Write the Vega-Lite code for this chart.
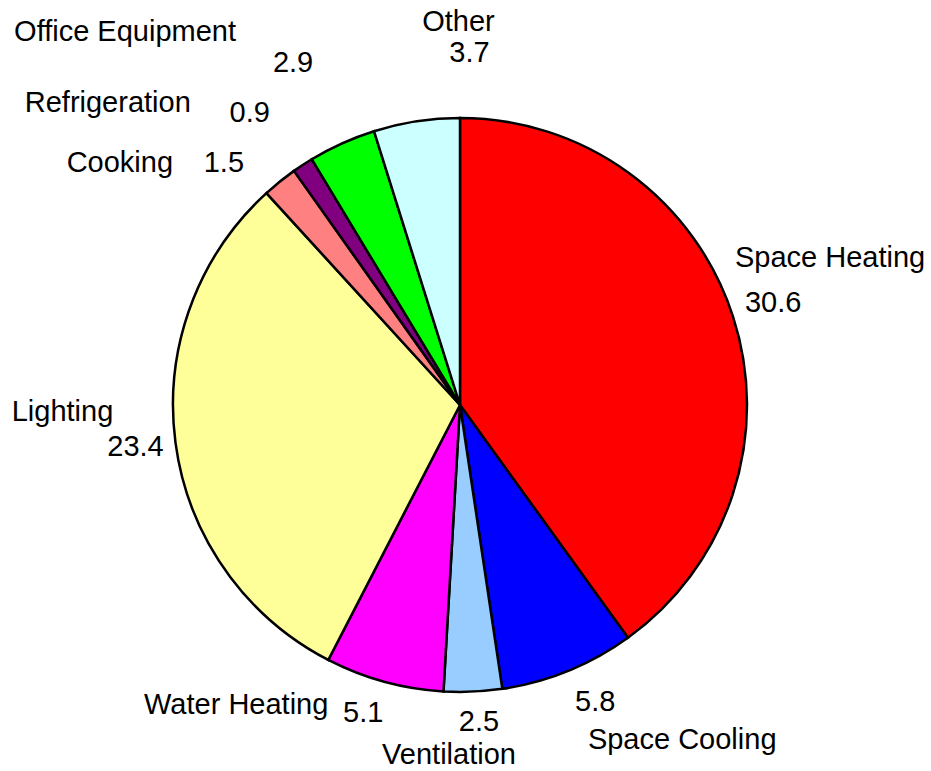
{
  "$schema": "https://vega.github.io/schema/vega-lite/v6.json",
  "width": 920,
  "height": 732,
  "autosize": "none",
  "padding": {"left": 0, "top": 39, "right": 11, "bottom": 0},
  "background": "white",
  "config": {"view": {"stroke": null}, "text": {"font": "Liberation Sans", "fontSize": 29, "color": "black"}},
  "data": {"values": [
    {"order": 1, "name": "Space Heating", "value": 30.6},
    {"order": 2, "name": "Space Cooling", "value": 5.8},
    {"order": 3, "name": "Ventilation", "value": 2.5},
    {"order": 4, "name": "Water Heating", "value": 5.1},
    {"order": 5, "name": "Lighting", "value": 23.4},
    {"order": 6, "name": "Cooking", "value": 1.5},
    {"order": 7, "name": "Refrigeration", "value": 0.9},
    {"order": 8, "name": "Office Equipment", "value": 2.9},
    {"order": 9, "name": "Other", "value": 3.7}
  ]},
  "encoding": {
    "theta": {"field": "value", "type": "quantitative", "stack": true},
    "order": {"field": "order", "type": "quantitative"}
  },
  "layer": [
    {
      "mark": {"type": "arc", "outerRadius": 287, "stroke": "black", "strokeWidth": 2.5},
      "encoding": {
        "color": {"field": "name", "type": "nominal", "legend": null,
          "scale": {"domain": ["Space Heating", "Space Cooling", "Ventilation", "Water Heating", "Lighting", "Cooking", "Refrigeration", "Office Equipment", "Other"],
                    "range": ["#FF0000", "#0000FF", "#99CCFF", "#FF00FF", "#FFFF99", "#FF8080", "#800080", "#00FF00", "#CCFFFF"]}}
      }
    },
    {"mark": {"type": "text", "radius": 287, "dx": 97, "dy": -59},
     "encoding": {"text": {"condition": {"test": "datum.name === 'Space Heating'", "field": "name"}, "value": ""}}},
    {"mark": {"type": "text", "radius": 287, "dx": 40, "dy": -14},
     "encoding": {"text": {"condition": {"test": "datum.name === 'Space Heating'", "field": "value", "type": "quantitative", "format": ".1f"}, "value": ""}}},
    {"mark": {"type": "text", "radius": 287, "dx": 114, "dy": 69},
     "encoding": {"text": {"condition": {"test": "datum.name === 'Space Cooling'", "field": "name"}, "value": ""}}},
    {"mark": {"type": "text", "radius": 287, "dx": 27, "dy": 31},
     "encoding": {"text": {"condition": {"test": "datum.name === 'Space Cooling'", "field": "value", "type": "quantitative", "format": ".1f"}, "value": ""}}},
    {"mark": {"type": "text", "radius": 287, "dx": -24, "dy": 63},
     "encoding": {"text": {"condition": {"test": "datum.name === 'Ventilation'", "field": "name"}, "value": ""}}},
    {"mark": {"type": "text", "radius": 287, "dx": 6, "dy": 30},
     "encoding": {"text": {"condition": {"test": "datum.name === 'Ventilation'", "field": "value", "type": "quantitative", "format": ".1f"}, "value": ""}}},
    {"mark": {"type": "text", "radius": 287, "dx": -148, "dy": 23},
     "encoding": {"text": {"condition": {"test": "datum.name === 'Water Heating'", "field": "name"}, "value": ""}}},
    {"mark": {"type": "text", "radius": 287, "dx": -21, "dy": 31},
     "encoding": {"text": {"condition": {"test": "datum.name === 'Water Heating'", "field": "value", "type": "quantitative", "format": ".1f"}, "value": ""}}},
    {"mark": {"type": "text", "radius": 287, "dx": -113, "dy": -31},
     "encoding": {"text": {"condition": {"test": "datum.name === 'Lighting'", "field": "name"}, "value": ""}}},
    {"mark": {"type": "text", "radius": 287, "dx": -40, "dy": 4},
     "encoding": {"text": {"condition": {"test": "datum.name === 'Lighting'", "field": "value", "type": "quantitative", "format": ".1f"}, "value": ""}}},
    {"mark": {"type": "text", "radius": 287, "dx": -160, "dy": -19},
     "encoding": {"text": {"condition": {"test": "datum.name === 'Cooking'", "field": "name"}, "value": ""}}},
    {"mark": {"type": "text", "radius": 287, "dx": -56, "dy": -19},
     "encoding": {"text": {"condition": {"test": "datum.name === 'Cooking'", "field": "value", "type": "quantitative", "format": ".1f"}, "value": ""}}},
    {"mark": {"type": "text", "radius": 287, "dx": -195, "dy": -62},
     "encoding": {"text": {"condition": {"test": "datum.name === 'Refrigeration'", "field": "name"}, "value": ""}}},
    {"mark": {"type": "text", "radius": 287, "dx": -53, "dy": -52},
     "encoding": {"text": {"condition": {"test": "datum.name === 'Refrigeration'", "field": "value", "type": "quantitative", "format": ".1f"}, "value": ""}}},
    {"mark": {"type": "text", "radius": 287, "dx": -217, "dy": -111},
     "encoding": {"text": {"condition": {"test": "datum.name === 'Office Equipment'", "field": "name"}, "value": ""}}},
    {"mark": {"type": "text", "radius": 287, "dx": -49, "dy": -80},
     "encoding": {"text": {"condition": {"test": "datum.name === 'Office Equipment'", "field": "value", "type": "quantitative", "format": ".1f"}, "value": ""}}},
    {"mark": {"type": "text", "radius": 287, "dx": 42, "dy": -99},
     "encoding": {"text": {"condition": {"test": "datum.name === 'Other'", "field": "name"}, "value": ""}}},
    {"mark": {"type": "text", "radius": 287, "dx": 53, "dy": -68},
     "encoding": {"text": {"condition": {"test": "datum.name === 'Other'", "field": "value", "type": "quantitative", "format": ".1f"}, "value": ""}}}
  ]
}
